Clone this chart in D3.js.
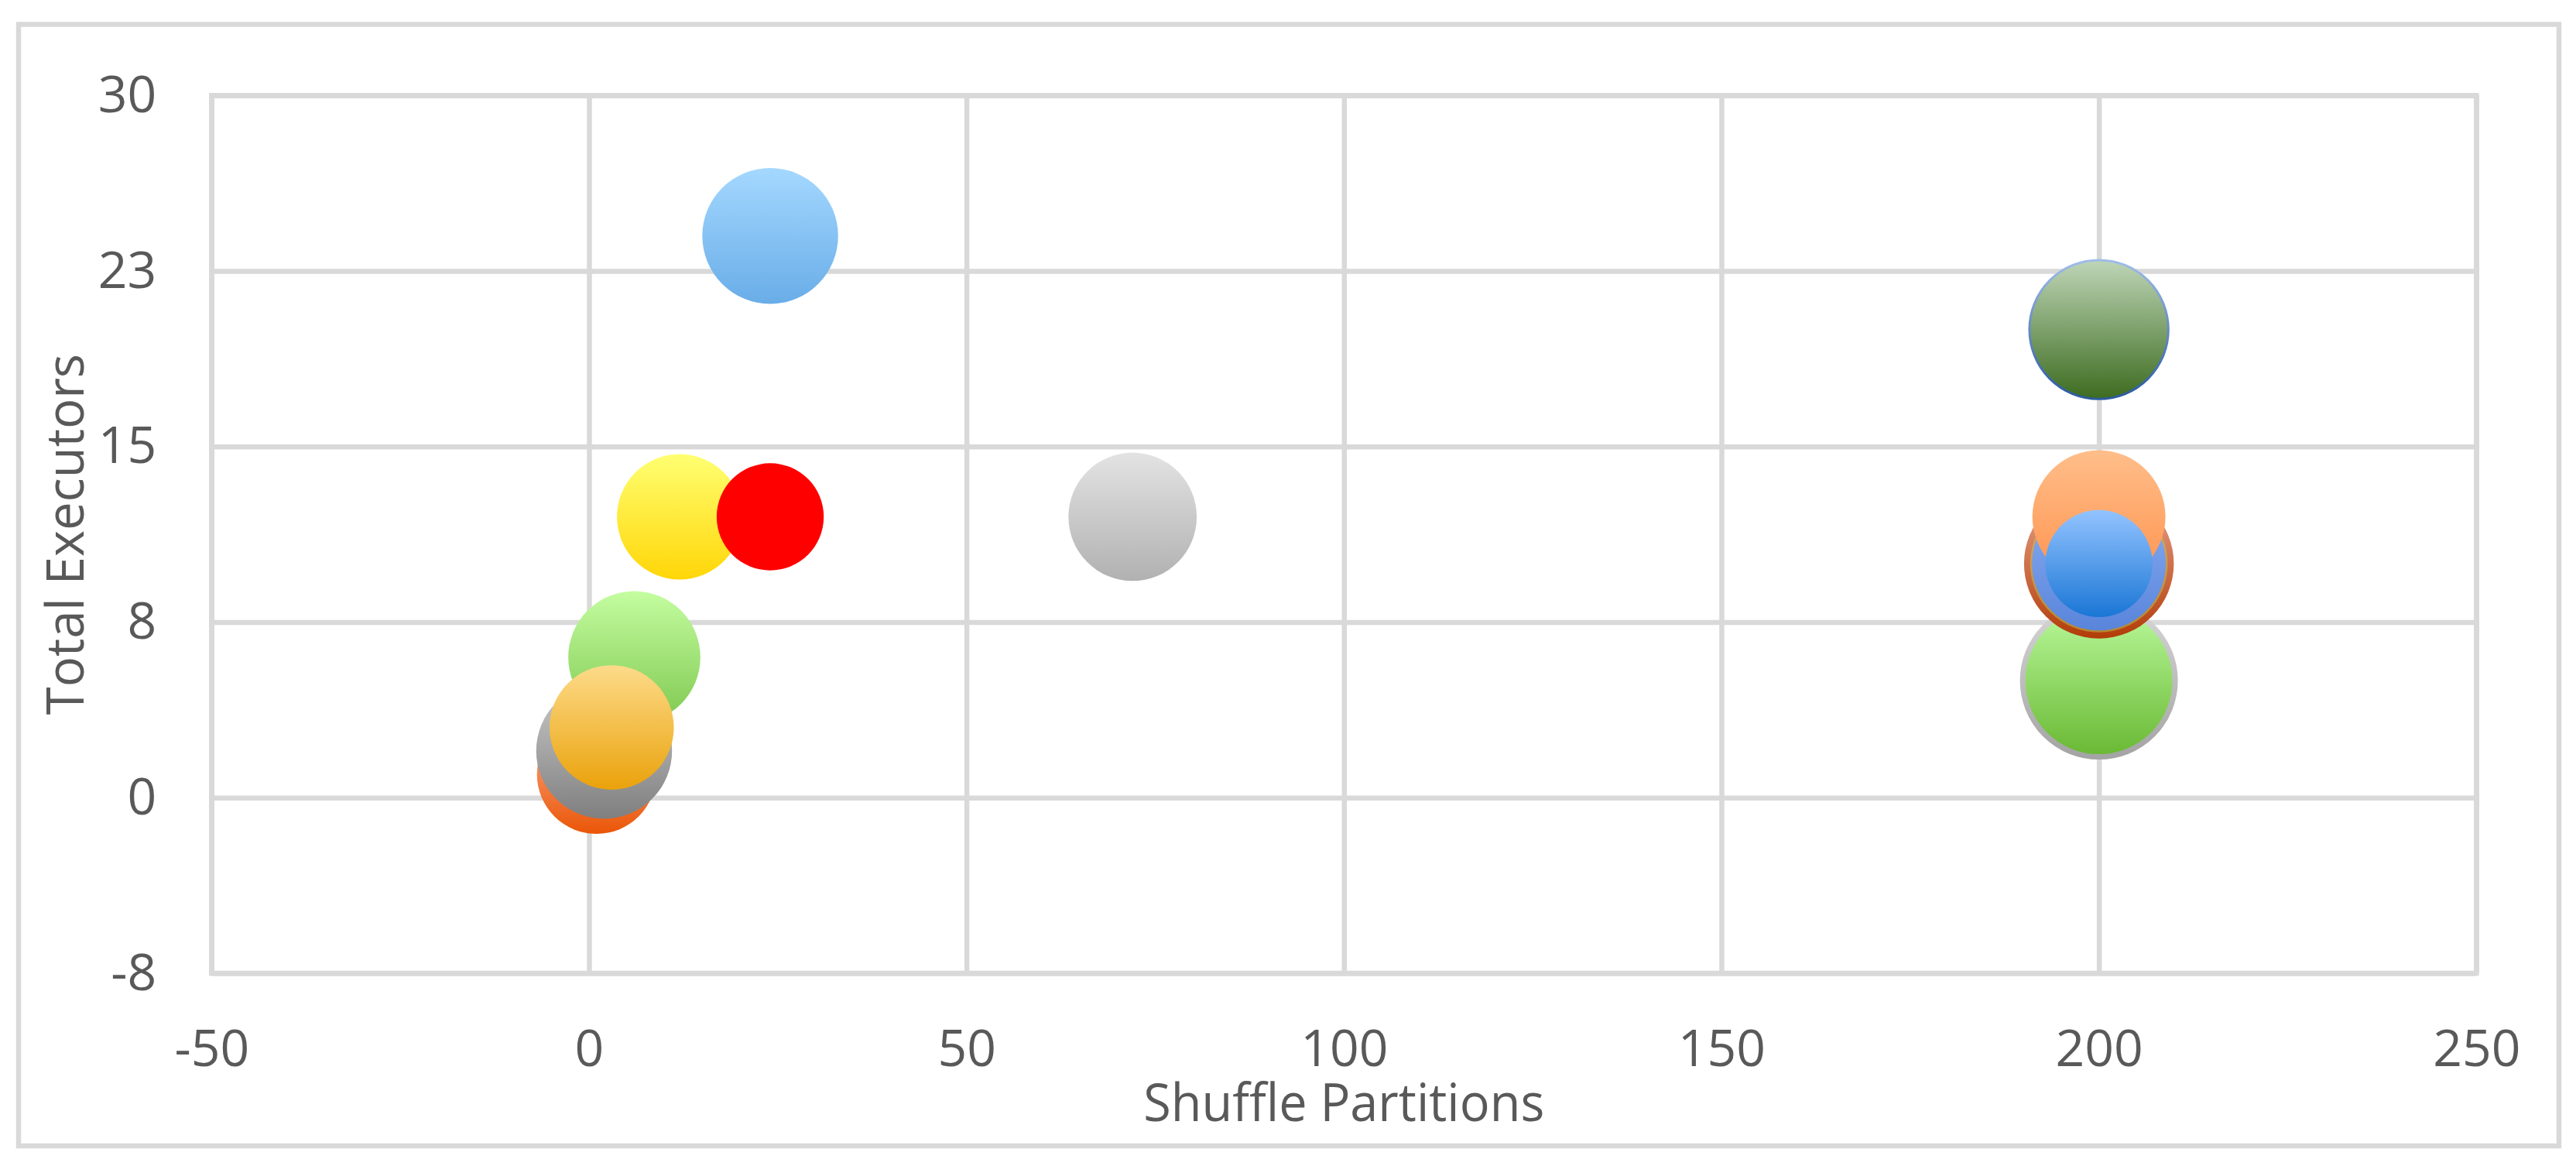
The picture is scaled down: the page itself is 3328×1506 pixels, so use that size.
<html>
<head>
<script src="https://cdn.jsdelivr.net/npm/d3@7"></script>
<style>
  body { margin: 0; background: #fff; }
  text { font-family: 'Open Sans', 'Liberation Sans', sans-serif; fill: #595959; }
</style>
</head>
<body>
<script>

// data
var shufflePartitions = [1, 2, 6, 3, 12, 24, 24, 72, 200, 200, 200, 200, 200, 200];
var totalExecutors    = [1, 2, 6, 3, 12, 12, 24, 12, 5, 10, 10, 20, 12, 10];
var bubbleSizes       = [57, 74, 70, 62, 63, 46, 74, 66, 100, 90, 76, 80, 71, 46];

var xTicks = [-50, 0, 50, 100, 150, 200, 250];
var yTicks = [-7.5, 0, 7.5, 15, 22.5, 30];

var xTitle = 'Shuffle Partitions';
var yTitle = 'Total Executors';

// fills (top -> bottom) and outlines, one per point
var fills = [
  ['#ffb595', '#ea5608'],
  ['#cacaca', '#7f7f7f'],
  ['#c4fda0', '#7fc850'],
  ['#fddb8a', '#eaa20b'],
  ['#ffff72', '#ffd608'],
  ['#ff0000', '#ff0000'],
  ['#a4d8ff', '#69ade8'],
  ['#e3e3e3', '#b1b1b1'],
  ['#bafa9d', '#69b833'],
  ['#eaa892', '#b23c08'],
  ['#8caff3', '#5884da'],
  ['#bed5b7', '#3d6c20'],
  ['#ffbe8a', '#ff924e'],
  ['#93c3ff', '#1a76d5']
];
var strokes = {
  8:  {c: ['#d6d6d6', '#a4a4a4'], w: 7},
  10: {c: ['#dcb070', '#b8862e'], w: 2.5},
  11: {c: ['#a0bde9', '#2b5a9f'], w: 3}
};

var width = 3328, height = 1506;
var plot = {left: 273.3, right: 3199.3, top: 123.3, bottom: 1257};
var gridColor = '#d9d9d9';

var svg = d3.select('body').append('svg')
  .attr('width', width)
  .attr('height', height);

svg.append('rect')
  .attr('width', width).attr('height', height)
  .style('fill', '#fff');

// chart area border
svg.append('rect')
  .attr('x', 24).attr('y', 31.5)
  .attr('width', 3306 - 24).attr('height', 1480 - 31.5)
  .style('fill', 'none')
  .style('stroke', gridColor)
  .style('stroke-width', 6.5);

var x = d3.scaleLinear()
  .domain([-50, 250])
  .range([plot.left, plot.right]);
var y = d3.scaleLinear()
  .domain([-7.5, 30])
  .range([plot.bottom, plot.top]);
var r = d3.scaleSqrt()
  .domain([0, d3.max(bubbleSizes)])
  .range([0, 102]);

var plotW = plot.right - plot.left;
var plotH = plot.bottom - plot.top;

function fmtY (v) {
  return (v < 0 ? '-' : '') + Math.round(Math.abs(v));
}

var xAxis = svg.append('g')
  .attr('transform', 'translate(0,' + plot.bottom + ')')
  .call(d3.axisBottom(x)
    .tickValues(xTicks)
    .tickFormat(function (d) { return String(d); })
    .tickSizeInner(-plotH)
    .tickSizeOuter(0)
    .tickPadding(73));

var yAxis = svg.append('g')
  .attr('transform', 'translate(' + plot.left + ',0)')
  .call(d3.axisLeft(y)
    .tickValues(yTicks)
    .tickFormat(fmtY)
    .tickSizeInner(-plotW)
    .tickSizeOuter(0)
    .tickPadding(71));

[xAxis, yAxis].forEach(function (g) {
  g.select('.domain').remove();
  g.selectAll('.tick line')
    .style('stroke', gridColor)
    .style('stroke-width', 6.5);
  g.selectAll('.tick text')
    .attr('fill', null)
    .style('font-size', '66px');
});

// plot area border
svg.append('rect')
  .attr('x', plot.left).attr('y', plot.top)
  .attr('width', plotW).attr('height', plotH)
  .style('fill', 'none')
  .style('stroke', gridColor)
  .style('stroke-width', 6.5);

// gradients
var defs = svg.append('defs');
function grad (id, c) {
  var g = defs.append('linearGradient')
    .attr('id', id)
    .attr('x1', 0).attr('y1', 0).attr('x2', 0).attr('y2', 1);
  g.append('stop').attr('offset', '0%').attr('stop-color', c[0]);
  g.append('stop').attr('offset', '100%').attr('stop-color', c[1]);
}
fills.forEach(function (c, i) { grad('fill' + i, c); });
Object.keys(strokes).forEach(function (k) { grad('stroke' + k, strokes[k].c); });

var points = shufflePartitions.map(function (d, i) {
  return {x: d, y: totalExecutors[i], size: bubbleSizes[i], i: i};
});

svg.append('g').selectAll('circle')
  .data(points)
  .enter()
  .append('circle')
  .attr('cx', function (d) { return x(d.x); })
  .attr('cy', function (d) { return y(d.y); })
  .attr('r', function (d) {
    var s = strokes[d.i];
    return r(d.size) - (s ? s.w / 2 : 0);
  })
  .style('fill', function (d) { return 'url(#fill' + d.i + ')'; })
  .style('stroke', function (d) { return strokes[d.i] ? 'url(#stroke' + d.i + ')' : 'none'; })
  .style('stroke-width', function (d) { return strokes[d.i] ? strokes[d.i].w : 0; });

// axis titles
svg.append('text')
  .attr('x', (plot.left + plot.right) / 2)
  .attr('y', 1448)
  .attr('text-anchor', 'middle')
  .attr('textLength', 518)
  .attr('lengthAdjust', 'spacingAndGlyphs')
  .style('font-size', '67px')
  .text(xTitle);

svg.append('text')
  .attr('transform', 'translate(108,' + (plot.top + plot.bottom) / 2 + ') rotate(-90)')
  .attr('text-anchor', 'middle')
  .attr('textLength', 466)
  .attr('lengthAdjust', 'spacingAndGlyphs')
  .style('font-size', '67px')
  .text(yTitle);

</script>
</body>
</html>
